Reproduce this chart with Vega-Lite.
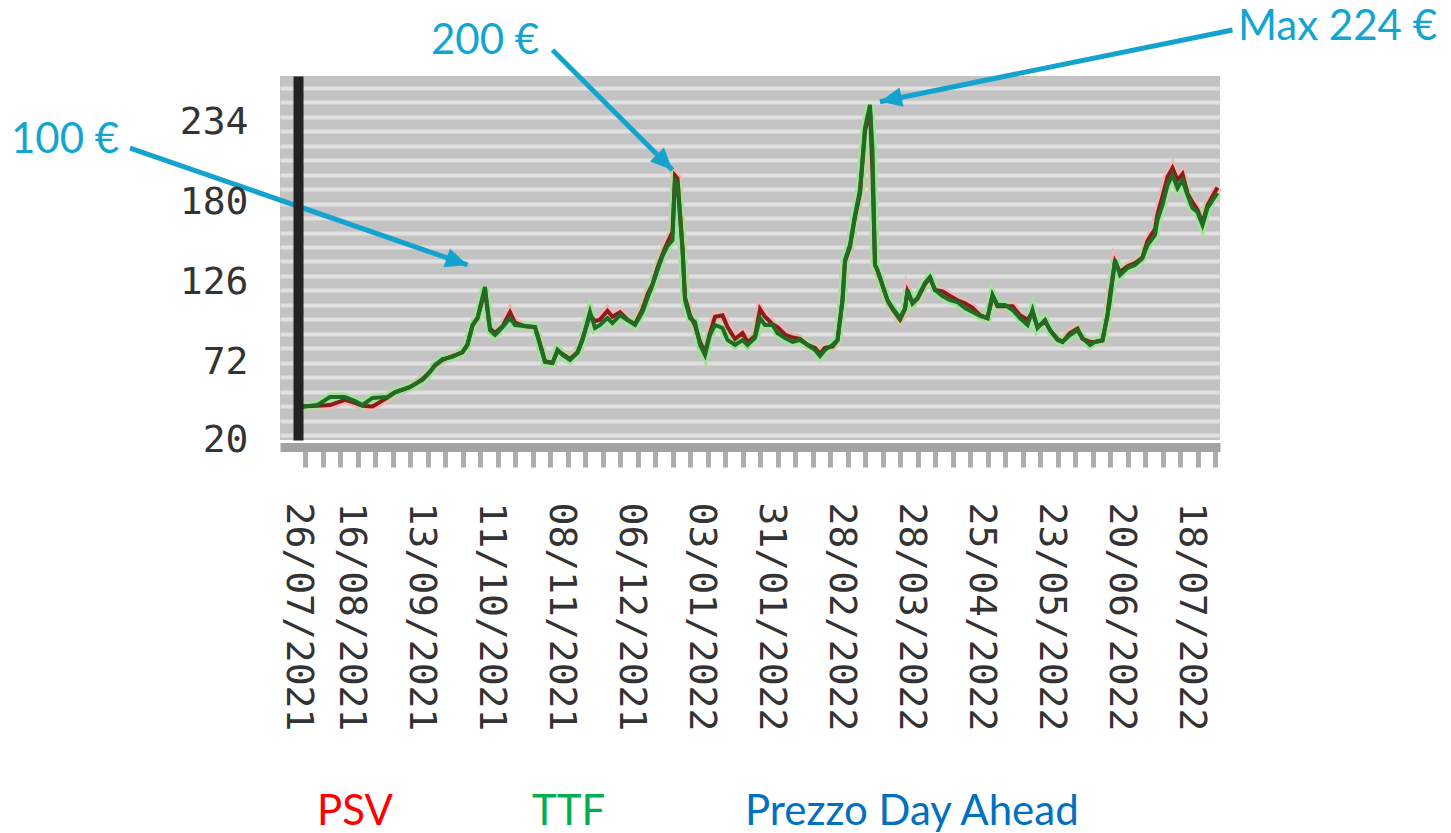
{
  "$schema": "https://vega.github.io/schema/vega-lite/v6.json",
  "width": 940,
  "height": 364,
  "autosize": "none",
  "padding": {"left": 280, "top": 76, "right": 231, "bottom": 393},
  "background": "#ffffff",
  "config": {"view": {"fill": "#c3c3c3", "stroke": null}},
  "datasets": {
    "prices": [
      {"date": "2021-07-27", "TTF": 42.2, "PSV": 42.5},
      {"date": "2021-08-03", "TTF": 43.6, "PSV": 43},
      {"date": "2021-08-08", "TTF": 48.9, "PSV": 43.5},
      {"date": "2021-08-14", "TTF": 48.9, "PSV": 47},
      {"date": "2021-08-18", "TTF": 46.2, "PSV": 45},
      {"date": "2021-08-21", "TTF": 43.6, "PSV": 43},
      {"date": "2021-08-25", "TTF": 48.3, "PSV": 42.5},
      {"date": "2021-08-31", "TTF": 49, "PSV": 48.5},
      {"date": "2021-09-03", "TTF": 52.3, "PSV": 52},
      {"date": "2021-09-09", "TTF": 55.7, "PSV": 55.5},
      {"date": "2021-09-14", "TTF": 60.4, "PSV": 61},
      {"date": "2021-09-17", "TTF": 65.8, "PSV": 66},
      {"date": "2021-09-19", "TTF": 70.5, "PSV": 70},
      {"date": "2021-09-22", "TTF": 74.5, "PSV": 74},
      {"date": "2021-09-26", "TTF": 75.9, "PSV": 76.5},
      {"date": "2021-09-30", "TTF": 79.2, "PSV": 79},
      {"date": "2021-10-02", "TTF": 84, "PSV": 84.5},
      {"date": "2021-10-04", "TTF": 97.4, "PSV": 97},
      {"date": "2021-10-06", "TTF": 102.1, "PSV": 102},
      {"date": "2021-10-09", "TTF": 123, "PSV": 121},
      {"date": "2021-10-10", "TTF": 107.5, "PSV": 108},
      {"date": "2021-10-11", "TTF": 94, "PSV": 95},
      {"date": "2021-10-13", "TTF": 90.7, "PSV": 92},
      {"date": "2021-10-16", "TTF": 96, "PSV": 96.5},
      {"date": "2021-10-19", "TTF": 102.1, "PSV": 106},
      {"date": "2021-10-21", "TTF": 97.4, "PSV": 99},
      {"date": "2021-10-25", "TTF": 96.7, "PSV": 96.5},
      {"date": "2021-10-29", "TTF": 96, "PSV": 96},
      {"date": "2021-10-31", "TTF": 84, "PSV": 85},
      {"date": "2021-11-02", "TTF": 72.5, "PSV": 73},
      {"date": "2021-11-05", "TTF": 71.8, "PSV": 72},
      {"date": "2021-11-07", "TTF": 80.6, "PSV": 80},
      {"date": "2021-11-09", "TTF": 77.2, "PSV": 78},
      {"date": "2021-11-12", "TTF": 73.8, "PSV": 74.5},
      {"date": "2021-11-15", "TTF": 78.6, "PSV": 79},
      {"date": "2021-11-17", "TTF": 87.3, "PSV": 88},
      {"date": "2021-11-20", "TTF": 106.2, "PSV": 104},
      {"date": "2021-11-22", "TTF": 95.4, "PSV": 100},
      {"date": "2021-11-24", "TTF": 97.4, "PSV": 101},
      {"date": "2021-11-27", "TTF": 102.1, "PSV": 107},
      {"date": "2021-11-29", "TTF": 98.7, "PSV": 103},
      {"date": "2021-12-02", "TTF": 104.1, "PSV": 106},
      {"date": "2021-12-05", "TTF": 100.8, "PSV": 101},
      {"date": "2021-12-08", "TTF": 97.4, "PSV": 98},
      {"date": "2021-12-11", "TTF": 106.2, "PSV": 108},
      {"date": "2021-12-13", "TTF": 115.6, "PSV": 118},
      {"date": "2021-12-15", "TTF": 124.3, "PSV": 125},
      {"date": "2021-12-17", "TTF": 134.4, "PSV": 136},
      {"date": "2021-12-19", "TTF": 143.8, "PSV": 145},
      {"date": "2021-12-21", "TTF": 150.6, "PSV": 153},
      {"date": "2021-12-23", "TTF": 154.6, "PSV": 160},
      {"date": "2021-12-24", "TTF": 195, "PSV": 198},
      {"date": "2021-12-25", "TTF": 193, "PSV": 196},
      {"date": "2021-12-27", "TTF": 147.9, "PSV": 150},
      {"date": "2021-12-28", "TTF": 114.2, "PSV": 116},
      {"date": "2021-12-30", "TTF": 102.1, "PSV": 104},
      {"date": "2022-01-01", "TTF": 99.4, "PSV": 97},
      {"date": "2022-01-03", "TTF": 84, "PSV": 86},
      {"date": "2022-01-05", "TTF": 77.2, "PSV": 79},
      {"date": "2022-01-07", "TTF": 90.7, "PSV": 92},
      {"date": "2022-01-09", "TTF": 97.4, "PSV": 103},
      {"date": "2022-01-12", "TTF": 95.4, "PSV": 104},
      {"date": "2022-01-14", "TTF": 87.3, "PSV": 96},
      {"date": "2022-01-17", "TTF": 84, "PSV": 88},
      {"date": "2022-01-20", "TTF": 87.3, "PSV": 92},
      {"date": "2022-01-22", "TTF": 84, "PSV": 86},
      {"date": "2022-01-25", "TTF": 88.7, "PSV": 90},
      {"date": "2022-01-27", "TTF": 102.1, "PSV": 108},
      {"date": "2022-01-29", "TTF": 97.4, "PSV": 103},
      {"date": "2022-02-01", "TTF": 97.4, "PSV": 98},
      {"date": "2022-02-03", "TTF": 92, "PSV": 96},
      {"date": "2022-02-06", "TTF": 88.7, "PSV": 91},
      {"date": "2022-02-09", "TTF": 86, "PSV": 89},
      {"date": "2022-02-12", "TTF": 87.3, "PSV": 88},
      {"date": "2022-02-15", "TTF": 84, "PSV": 84},
      {"date": "2022-02-18", "TTF": 80.6, "PSV": 82},
      {"date": "2022-02-20", "TTF": 76.5, "PSV": 78},
      {"date": "2022-02-22", "TTF": 80.6, "PSV": 82},
      {"date": "2022-02-25", "TTF": 84, "PSV": 83},
      {"date": "2022-02-27", "TTF": 87.3, "PSV": 87},
      {"date": "2022-03-01", "TTF": 114.2, "PSV": 114},
      {"date": "2022-03-02", "TTF": 141.2, "PSV": 140},
      {"date": "2022-03-04", "TTF": 151.2, "PSV": 150},
      {"date": "2022-03-06", "TTF": 171.4, "PSV": 170},
      {"date": "2022-03-08", "TTF": 188.3, "PSV": 186},
      {"date": "2022-03-10", "TTF": 230, "PSV": 228},
      {"date": "2022-03-12", "TTF": 245.5, "PSV": 242},
      {"date": "2022-03-13", "TTF": 215.2, "PSV": 200},
      {"date": "2022-03-14", "TTF": 137.8, "PSV": 138},
      {"date": "2022-03-15", "TTF": 134.4, "PSV": 134},
      {"date": "2022-03-17", "TTF": 124.3, "PSV": 124},
      {"date": "2022-03-19", "TTF": 114.2, "PSV": 114},
      {"date": "2022-03-21", "TTF": 108.8, "PSV": 108},
      {"date": "2022-03-24", "TTF": 102.1, "PSV": 101},
      {"date": "2022-03-26", "TTF": 108.8, "PSV": 108},
      {"date": "2022-03-27", "TTF": 121, "PSV": 120},
      {"date": "2022-03-29", "TTF": 112.2, "PSV": 112},
      {"date": "2022-03-31", "TTF": 115.6, "PSV": 115},
      {"date": "2022-04-03", "TTF": 125.7, "PSV": 125},
      {"date": "2022-04-05", "TTF": 129.7, "PSV": 129},
      {"date": "2022-04-07", "TTF": 121, "PSV": 121},
      {"date": "2022-04-10", "TTF": 116.9, "PSV": 120},
      {"date": "2022-04-13", "TTF": 114.2, "PSV": 117},
      {"date": "2022-04-16", "TTF": 112.9, "PSV": 114},
      {"date": "2022-04-19", "TTF": 108.8, "PSV": 112},
      {"date": "2022-04-22", "TTF": 106.2, "PSV": 109},
      {"date": "2022-04-25", "TTF": 103.5, "PSV": 104},
      {"date": "2022-04-28", "TTF": 102.1, "PSV": 102},
      {"date": "2022-04-30", "TTF": 117.6, "PSV": 117},
      {"date": "2022-05-02", "TTF": 110.9, "PSV": 110},
      {"date": "2022-05-05", "TTF": 110.9, "PSV": 110},
      {"date": "2022-05-08", "TTF": 107.5, "PSV": 110},
      {"date": "2022-05-11", "TTF": 102.1, "PSV": 104},
      {"date": "2022-05-14", "TTF": 97.4, "PSV": 101},
      {"date": "2022-05-16", "TTF": 107.5, "PSV": 106},
      {"date": "2022-05-18", "TTF": 95.4, "PSV": 96},
      {"date": "2022-05-21", "TTF": 100.8, "PSV": 100},
      {"date": "2022-05-23", "TTF": 94, "PSV": 94},
      {"date": "2022-05-26", "TTF": 87.3, "PSV": 88},
      {"date": "2022-05-28", "TTF": 86, "PSV": 86},
      {"date": "2022-05-31", "TTF": 90.7, "PSV": 92},
      {"date": "2022-06-03", "TTF": 94, "PSV": 95},
      {"date": "2022-06-05", "TTF": 88.7, "PSV": 88},
      {"date": "2022-06-08", "TTF": 84, "PSV": 86},
      {"date": "2022-06-10", "TTF": 86, "PSV": 86},
      {"date": "2022-06-13", "TTF": 87.3, "PSV": 87},
      {"date": "2022-06-15", "TTF": 104.1, "PSV": 104},
      {"date": "2022-06-16", "TTF": 114.2, "PSV": 118},
      {"date": "2022-06-18", "TTF": 141.2, "PSV": 140},
      {"date": "2022-06-20", "TTF": 131.1, "PSV": 133},
      {"date": "2022-06-23", "TTF": 135.8, "PSV": 137},
      {"date": "2022-06-26", "TTF": 137.8, "PSV": 139},
      {"date": "2022-06-29", "TTF": 142.5, "PSV": 143},
      {"date": "2022-07-01", "TTF": 151.2, "PSV": 154},
      {"date": "2022-07-04", "TTF": 158, "PSV": 162},
      {"date": "2022-07-05", "TTF": 168.1, "PSV": 172},
      {"date": "2022-07-07", "TTF": 178.2, "PSV": 184},
      {"date": "2022-07-09", "TTF": 191.6, "PSV": 197},
      {"date": "2022-07-11", "TTF": 198.4, "PSV": 203},
      {"date": "2022-07-13", "TTF": 189.6, "PSV": 195},
      {"date": "2022-07-15", "TTF": 195, "PSV": 199},
      {"date": "2022-07-17", "TTF": 184.9, "PSV": 186},
      {"date": "2022-07-19", "TTF": 176.2, "PSV": 180},
      {"date": "2022-07-21", "TTF": 173.5, "PSV": 175},
      {"date": "2022-07-23", "TTF": 164.7, "PSV": 166},
      {"date": "2022-07-25", "TTF": 176.2, "PSV": 178},
      {"date": "2022-07-27", "TTF": 181.5, "PSV": 184},
      {"date": "2022-07-29", "TTF": 186.2, "PSV": 190}
    ],
    "notes": [
      {"label": "100 €", "tdate": "2021-04-24", "tval": 221.9, "adate": "2021-05-20", "aval": 216.5, "hdate": "2021-10-02", "hval": 137.8},
      {"label": "200 €", "tdate": "2021-10-09", "tval": 288.6, "adate": "2021-11-05", "aval": 282.5, "hdate": "2021-12-23", "hval": 201.7},
      {"label": "Max 224 €", "tdate": "2022-09-15", "tval": 298, "adate": "2022-08-04", "aval": 296, "hdate": "2022-03-16", "hval": 247.7}
    ]
  },
  "resolve": {"axis": {"x": "independent", "y": "independent"}},
  "layer": [
    {
      "data": {"name": "prices"},
      "transform": [{"fold": ["PSV", "TTF"], "as": ["series", "price"]}, {"filter": "datum.series == 'PSV'"}],
      "mark": {"type": "line", "color": "#f2b4b4", "strokeWidth": 9, "strokeJoin": "miter"},
      "encoding": {
        "x": {"field": "date", "type": "temporal", "scale": {"type": "utc", "domain": [{"year": 2021, "month": 7, "date": 19, "utc": true}, {"year": 2022, "month": 7, "date": 30, "utc": true}], "nice": false}, "axis": null},
        "y": {"field": "price", "type": "quantitative", "scale": {"domain": [20, 265], "nice": false, "zero": false},
          "axis": {"orient": "right", "values": [23.4, 33.1, 42.9, 52.6, 62.3, 72.1, 81.8, 91.5, 101.2, 111, 120.7, 130.4, 140.2, 149.9, 159.6, 169.4, 179.1, 188.8, 198.5, 208.3, 218, 227.7, 237.5, 247.2, 256.9],
            "grid": true, "gridColor": "#e0e0e0", "gridWidth": 4, "gridOpacity": 1, "labels": false, "ticks": false, "domain": false, "title": null, "zindex": 0}}
      }
    },
    {
      "data": {"name": "prices"},
      "transform": [{"fold": ["PSV", "TTF"], "as": ["series", "price"]}, {"filter": "datum.series == 'TTF'"}],
      "mark": {"type": "line", "color": "#a3e39c", "strokeWidth": 9, "strokeJoin": "miter"},
      "encoding": {
        "x": {"field": "date", "type": "temporal", "scale": {"type": "utc", "domain": [{"year": 2021, "month": 7, "date": 19, "utc": true}, {"year": 2022, "month": 7, "date": 30, "utc": true}], "nice": false}, "axis": null},
        "y": {"field": "price", "type": "quantitative", "scale": {"domain": [20, 265], "nice": false, "zero": false}, "axis": null}
      }
    },
    {
      "data": {"name": "prices"},
      "transform": [{"fold": ["PSV", "TTF"], "as": ["series", "price"]}],
      "mark": {"type": "line", "strokeWidth": 4, "strokeJoin": "miter"},
      "encoding": {
        "x": {"field": "date", "type": "temporal", "scale": {"type": "utc", "domain": [{"year": 2021, "month": 7, "date": 19, "utc": true}, {"year": 2022, "month": 7, "date": 30, "utc": true}], "nice": false},
          "axis": {
            "values": [1627516800000, 1628121600000, 1628726400000, 1629331200000, 1629936000000, 1630540800000, 1631145600000, 1631750400000, 1632355200000, 1632960000000, 1633564800000, 1634169600000, 1634774400000, 1635379200000, 1635984000000, 1636588800000, 1637193600000, 1637798400000, 1638403200000, 1639008000000, 1639612800000, 1640217600000, 1640822400000, 1641427200000, 1642032000000, 1642636800000, 1643241600000, 1643846400000, 1644451200000, 1645056000000, 1645660800000, 1646265600000, 1646870400000, 1647475200000, 1648080000000, 1648684800000, 1649289600000, 1649894400000, 1650499200000, 1651104000000, 1651708800000, 1652313600000, 1652918400000, 1653523200000, 1654128000000, 1654732800000, 1655337600000, 1655942400000, 1656547200000, 1657152000000, 1657756800000, 1658361600000, 1658966400000],
            "labelExpr": "((round((datum.value - 1627516800000) / 604800000) - 3) % 4 == 0 || round((datum.value - 1627516800000) / 604800000) == 0) ? utcFormat(datum.value - 259200000, '%d/%m/%Y') : ''",
            "labelAngle": 90, "labelAlign": "left", "labelBaseline": "middle",
            "labelFont": "DejaVu Sans Mono", "labelFontSize": 38, "labelColor": "#333333", "labelLimit": 0,
            "labelOffset": -7.5, "labelOverlap": false, "labelBound": false, "labelFlush": false,
            "tickColor": "#adadad", "tickWidth": 5, "tickSize": 20,
            "domainColor": "#a3a3a3", "domainWidth": 9, "offset": 7, "labelPadding": 35,
            "grid": false, "title": null, "zindex": 1
          }},
        "y": {"field": "price", "type": "quantitative", "scale": {"domain": [20, 265], "nice": false, "zero": false},
          "axis": {"orient": "left", "values": [20, 72, 126, 180, 234], "offset": -18, "domainColor": "#222222", "domainWidth": 10,
            "ticks": false, "tickSize": 0, "labelPadding": 50, "labelFont": "DejaVu Sans Mono", "labelFontSize": 38, "labelColor": "#333333",
            "labelBound": false, "labelFlush": false, "labelOverlap": false, "grid": false, "title": null, "zindex": 1}},
        "color": {"field": "series", "type": "nominal",
          "scale": {"domain": ["PSV", "TTF", "Prezzo Day Ahead"], "range": ["#8b1c1c", "#226b27", "#0070c0"]},
          "legend": {"orient": "none", "legendX": -5, "legendY": 715, "direction": "horizontal", "title": null, "gridAlign": "none",
            "symbolOpacity": 0, "symbolSize": 0, "symbolStrokeWidth": 0, "labelOffset": 0, "padding": 0, "labelLimit": 0,
            "labelFont": "Lato", "labelFontSize": 42, "columnPadding": 97,
            "labelColor": {"expr": "datum.value == 'PSV' ? '#ff0000' : datum.value == 'TTF' ? '#00b050' : '#0070c0'"}}}
      }
    },
    {
      "data": {"name": "notes"},
      "mark": {"type": "rule", "color": "#14a3cf", "strokeWidth": 5},
      "encoding": {
        "x": {"field": "adate", "type": "temporal", "scale": {"type": "utc", "domain": [{"year": 2021, "month": 7, "date": 19, "utc": true}, {"year": 2022, "month": 7, "date": 30, "utc": true}], "nice": false}, "axis": null},
        "x2": {"field": "hdate"},
        "y": {"field": "aval", "type": "quantitative", "scale": {"domain": [20, 265], "nice": false, "zero": false}, "axis": null},
        "y2": {"field": "hval"}
      }
    },
    {
      "data": {"name": "notes"},
      "mark": {"type": "text", "color": "#12a5d0", "font": "Lato", "fontSize": 42, "align": "center", "baseline": "middle"},
      "encoding": {
        "x": {"field": "tdate", "type": "temporal", "scale": {"type": "utc", "domain": [{"year": 2021, "month": 7, "date": 19, "utc": true}, {"year": 2022, "month": 7, "date": 30, "utc": true}], "nice": false}, "axis": null},
        "y": {"field": "tval", "type": "quantitative", "scale": {"domain": [20, 265], "nice": false, "zero": false}, "axis": null},
        "text": {"field": "label"}
      }
    },
    {
      "data": {"name": "notes"},
      "transform": [{"filter": "datum.label == '100 €'"}],
      "mark": {"type": "point", "shape": "M0,0L-2,-0.9L-2,0.9Z", "size": 484, "filled": true, "color": "#14a3cf", "opacity": 1, "angle": 19},
      "encoding": {
        "x": {"field": "hdate", "type": "temporal", "scale": {"type": "utc", "domain": [{"year": 2021, "month": 7, "date": 19, "utc": true}, {"year": 2022, "month": 7, "date": 30, "utc": true}], "nice": false}, "axis": null},
        "y": {"field": "hval", "type": "quantitative", "scale": {"domain": [20, 265], "nice": false, "zero": false}, "axis": null}
      }
    },
    {
      "data": {"name": "notes"},
      "transform": [{"filter": "datum.label == '200 €'"}],
      "mark": {"type": "point", "shape": "M0,0L-2,-0.9L-2,0.9Z", "size": 484, "filled": true, "color": "#14a3cf", "opacity": 1, "angle": 45},
      "encoding": {
        "x": {"field": "hdate", "type": "temporal", "scale": {"type": "utc", "domain": [{"year": 2021, "month": 7, "date": 19, "utc": true}, {"year": 2022, "month": 7, "date": 30, "utc": true}], "nice": false}, "axis": null},
        "y": {"field": "hval", "type": "quantitative", "scale": {"domain": [20, 265], "nice": false, "zero": false}, "axis": null}
      }
    },
    {
      "data": {"name": "notes"},
      "transform": [{"filter": "datum.label == 'Max 224 €'"}],
      "mark": {"type": "point", "shape": "M0,0L-2,-0.9L-2,0.9Z", "size": 484, "filled": true, "color": "#14a3cf", "opacity": 1, "angle": 168},
      "encoding": {
        "x": {"field": "hdate", "type": "temporal", "scale": {"type": "utc", "domain": [{"year": 2021, "month": 7, "date": 19, "utc": true}, {"year": 2022, "month": 7, "date": 30, "utc": true}], "nice": false}, "axis": null},
        "y": {"field": "hval", "type": "quantitative", "scale": {"domain": [20, 265], "nice": false, "zero": false}, "axis": null}
      }
    }
  ]
}
